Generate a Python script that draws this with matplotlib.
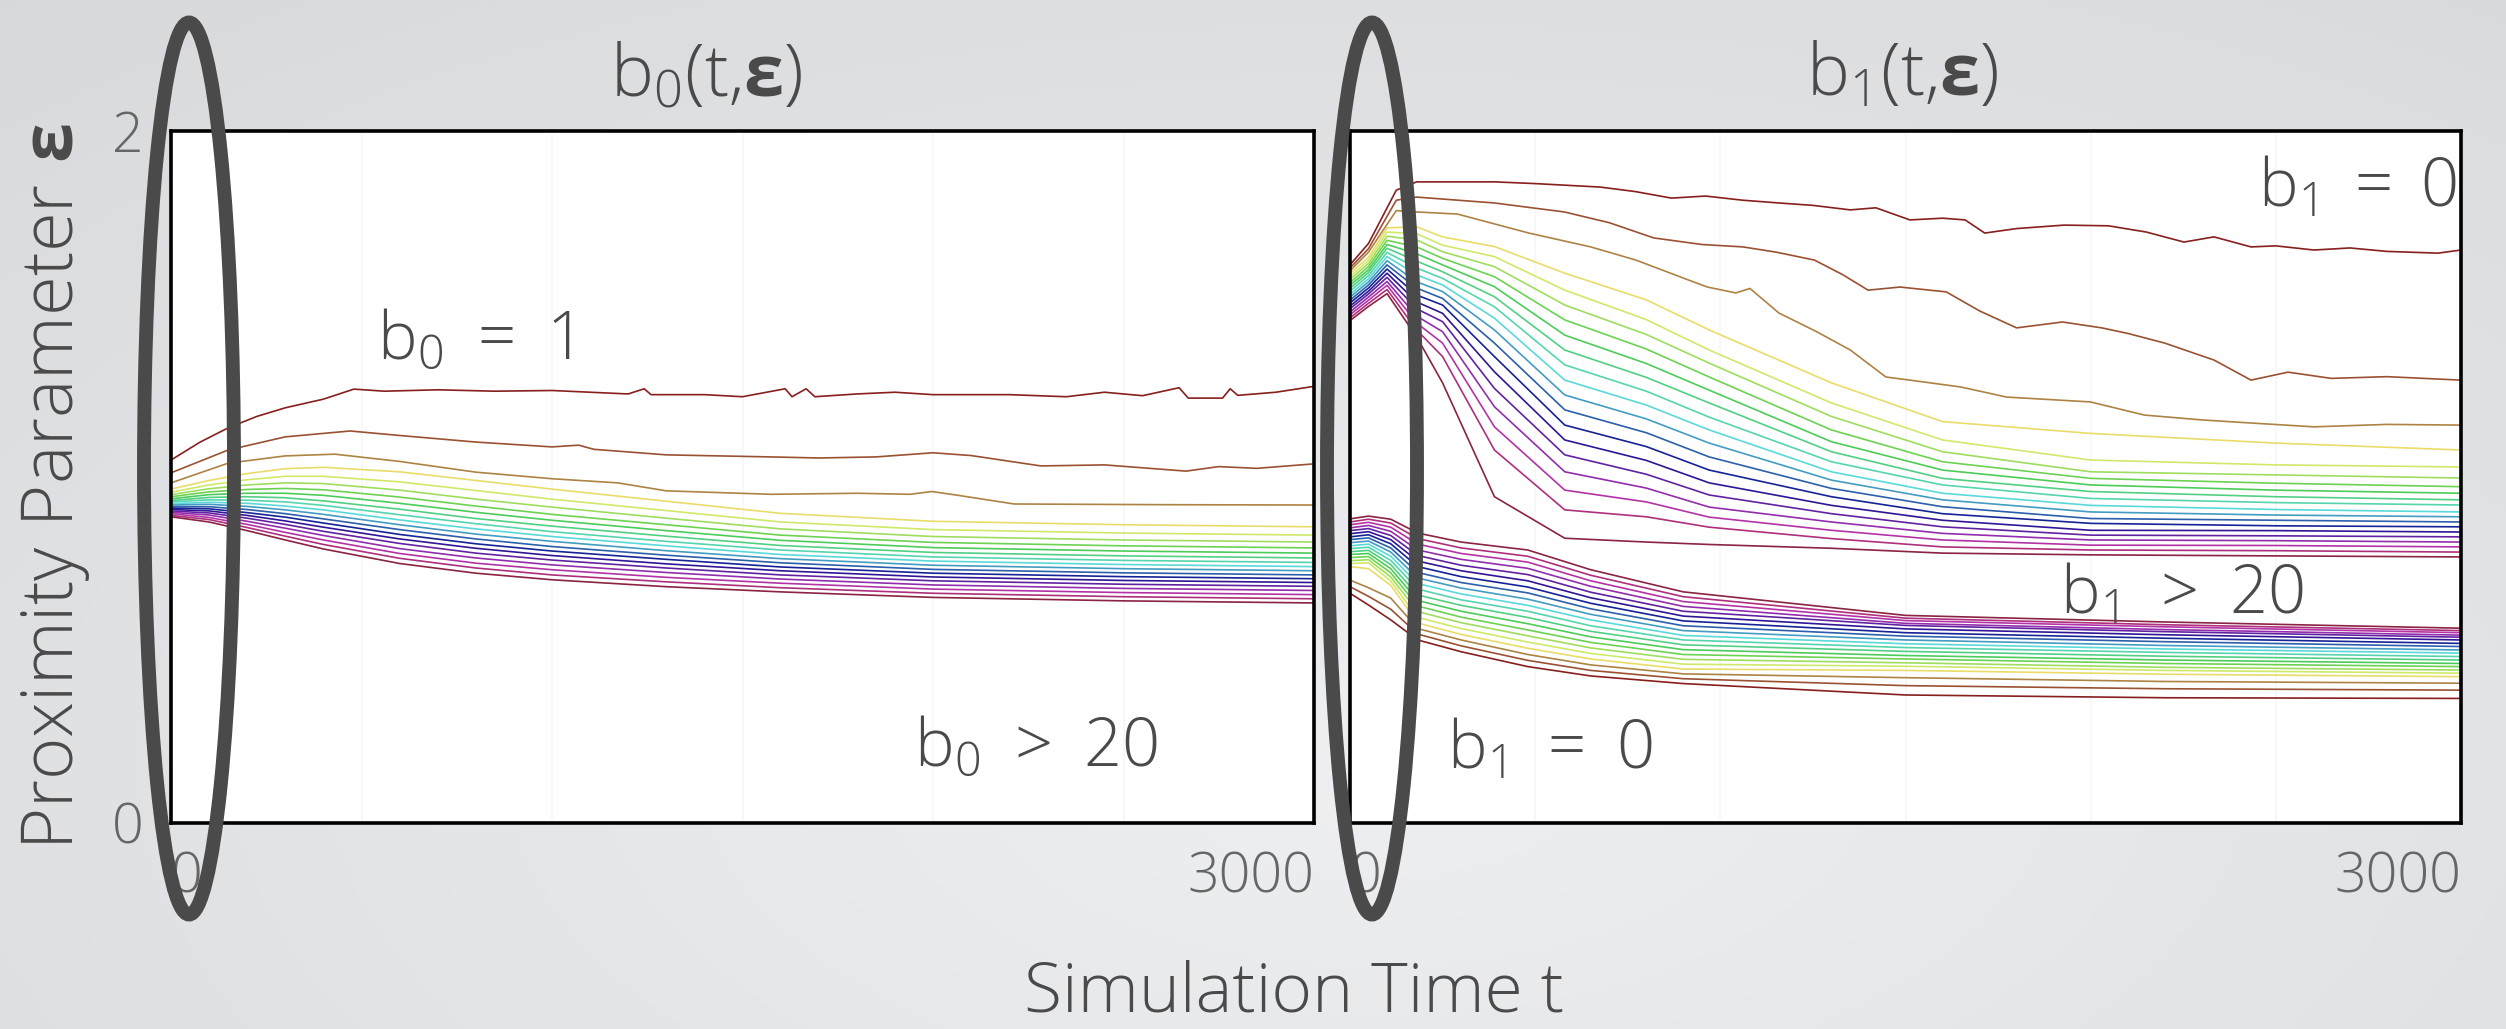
import numpy as np
import matplotlib
matplotlib.use("Agg")
import matplotlib.pyplot as plt
from matplotlib.patches import Ellipse
from matplotlib.colors import hsv_to_rgb

plt.rcParams['font.family'] = ['Open Sans', 'DejaVu Sans']
plt.rcParams['font.weight'] = 'light'
plt.rcParams['mathtext.fontset'] = 'custom'
plt.rcParams['mathtext.rm'] = 'Open Sans:light'
plt.rcParams['mathtext.it'] = 'Open Sans:light'
plt.rcParams['mathtext.bf'] = 'Open Sans:bold'
plt.rcParams['mathtext.default'] = 'rm'

# ---------------------------------------------------------------- data
# b0(t, eps): level curves b0 = 1, 2, 3 (noisy) and b0 = 4 ... 20
B0_L1_T = [0, 75, 150, 225, 300, 400, 480, 560, 700, 850, 1000, 1100, 1200, 1242, 1260,
           1400, 1500, 1612, 1630, 1667, 1690, 1800, 1900, 2000, 2200, 2350, 2450, 2550,
           2646, 2670, 2760, 2780, 2800, 2900, 3000]
B0_L1_E = [1.049, 1.100, 1.142, 1.175, 1.200, 1.225, 1.254, 1.248, 1.252, 1.248, 1.250,
           1.245, 1.240, 1.255, 1.238, 1.238, 1.232, 1.255, 1.232, 1.255, 1.232, 1.240,
           1.245, 1.238, 1.238, 1.232, 1.245, 1.235, 1.258, 1.228, 1.228, 1.255, 1.236,
           1.245, 1.262]
B0_L2_T = [0, 150, 300, 470, 600, 800, 1000, 1070, 1110, 1300, 1575, 1700, 1850, 2000,
           2100, 2283, 2450, 2664, 2750, 2850, 3000]
B0_L2_E = [1.012, 1.078, 1.116, 1.133, 1.120, 1.101, 1.087, 1.092, 1.080, 1.064, 1.058,
           1.055, 1.058, 1.070, 1.062, 1.032, 1.035, 1.017, 1.030, 1.025, 1.038]
B0_L3_T = [0, 150, 300, 430, 600, 800, 1000, 1173, 1300, 1575, 1800, 1940, 1997, 2060,
           2213, 2600, 3000]
B0_L3_E = [0.983, 1.040, 1.061, 1.066, 1.045, 1.014, 0.995, 0.983, 0.960, 0.950, 0.953,
           0.950, 0.958, 0.948, 0.922, 0.920, 0.919]

B0_T = [0, 100, 200, 300, 400, 600, 800, 1000, 1300, 1600, 2000, 2500, 3000]
B0_LEVELS = [
    [0.965, 0.990, 1.010, 1.024, 1.028, 1.015, 0.990, 0.965, 0.930, 0.895, 0.872, 0.862, 0.856],
    [0.956, 0.977, 0.992, 1.002, 1.002, 0.986, 0.961, 0.936, 0.903, 0.870, 0.848, 0.838, 0.832],
    [0.949, 0.966, 0.977, 0.983, 0.981, 0.962, 0.936, 0.913, 0.881, 0.850, 0.828, 0.818, 0.812],
    [0.943, 0.957, 0.964, 0.967, 0.963, 0.942, 0.916, 0.892, 0.862, 0.832, 0.811, 0.801, 0.795],
    [0.937, 0.949, 0.953, 0.953, 0.947, 0.924, 0.898, 0.875, 0.845, 0.817, 0.796, 0.786, 0.780],
    [0.932, 0.941, 0.943, 0.940, 0.931, 0.907, 0.880, 0.858, 0.829, 0.802, 0.782, 0.772, 0.766],
    [0.928, 0.934, 0.933, 0.928, 0.918, 0.891, 0.865, 0.842, 0.814, 0.789, 0.769, 0.759, 0.753],
    [0.923, 0.927, 0.924, 0.916, 0.905, 0.876, 0.850, 0.828, 0.801, 0.776, 0.757, 0.747, 0.741],
    [0.919, 0.921, 0.915, 0.905, 0.892, 0.862, 0.835, 0.814, 0.787, 0.764, 0.745, 0.735, 0.729],
    [0.914, 0.914, 0.906, 0.894, 0.879, 0.848, 0.821, 0.799, 0.774, 0.752, 0.733, 0.723, 0.717],
    [0.910, 0.908, 0.897, 0.884, 0.867, 0.834, 0.807, 0.786, 0.762, 0.740, 0.722, 0.712, 0.706],
    [0.906, 0.902, 0.889, 0.873, 0.855, 0.821, 0.794, 0.773, 0.749, 0.729, 0.711, 0.701, 0.695],
    [0.902, 0.896, 0.881, 0.863, 0.843, 0.808, 0.780, 0.760, 0.737, 0.717, 0.700, 0.690, 0.684],
    [0.898, 0.890, 0.872, 0.852, 0.831, 0.793, 0.766, 0.746, 0.724, 0.705, 0.688, 0.678, 0.672],
    [0.894, 0.883, 0.863, 0.840, 0.818, 0.779, 0.751, 0.732, 0.710, 0.693, 0.676, 0.666, 0.660],
    [0.889, 0.877, 0.854, 0.829, 0.805, 0.765, 0.737, 0.717, 0.697, 0.680, 0.664, 0.654, 0.648],
    [0.885, 0.870, 0.845, 0.818, 0.792, 0.750, 0.722, 0.703, 0.683, 0.668, 0.652, 0.642, 0.636],
]

# b1(t, eps), upper family: levels 1, 2, 3 (noisy) and 4 ... 20
B1U_L1_T = [0, 50, 125, 180, 390, 500, 675, 770, 868, 960, 1060, 1158, 1250, 1351, 1420,
            1512, 1600, 1661, 1714, 1800, 1928, 2048, 2150, 2252, 2333, 2433, 2500, 2603,
            2700, 2800, 2938, 3000]
B1U_L1_E = [1.613, 1.675, 1.829, 1.853, 1.853, 1.848, 1.838, 1.825, 1.806, 1.812, 1.800,
            1.792, 1.785, 1.772, 1.778, 1.743, 1.748, 1.743, 1.705, 1.718, 1.728, 1.726,
            1.708, 1.679, 1.694, 1.665, 1.668, 1.656, 1.662, 1.652, 1.647, 1.656]
B1U_L2_T = [0, 50, 125, 180, 390, 579, 700, 820, 950, 1061, 1150, 1254, 1330, 1399, 1485,
            1610, 1700, 1800, 1924, 2030, 2100, 2200, 2333, 2433, 2533, 2650, 2800, 3000]
B1U_L2_E = [1.604, 1.660, 1.800, 1.809, 1.792, 1.766, 1.735, 1.691, 1.672, 1.665, 1.650,
            1.627, 1.585, 1.540, 1.549, 1.535, 1.480, 1.431, 1.448, 1.431, 1.415, 1.387,
            1.338, 1.280, 1.303, 1.285, 1.290, 1.280]
B1U_L3_T = [0, 50, 125, 180, 290, 483, 650, 772, 900, 965, 1042, 1080, 1158, 1260, 1351,
            1447, 1512, 1650, 1773, 1999, 2145, 2300, 2433, 2603, 2800, 3000]
B1U_L3_E = [1.596, 1.650, 1.770, 1.766, 1.760, 1.705, 1.665, 1.627, 1.575, 1.549, 1.532,
            1.545, 1.474, 1.420, 1.367, 1.289, 1.280, 1.260, 1.231, 1.217, 1.179, 1.165,
            1.156, 1.145, 1.152, 1.150]

B1U_T = [0, 50, 100, 180, 250, 390, 580, 800, 970, 1300, 1600, 2000, 2500, 3000]
B1U_LEVELS = [
    [1.588, 1.635, 1.720, 1.723, 1.694, 1.666, 1.589, 1.512, 1.425, 1.272, 1.160, 1.126, 1.098, 1.078],
    [1.579, 1.626, 1.708, 1.703, 1.670, 1.637, 1.540, 1.455, 1.367, 1.214, 1.107, 1.049, 1.035, 1.029],
    [1.571, 1.617, 1.696, 1.685, 1.651, 1.608, 1.497, 1.412, 1.329, 1.175, 1.073, 1.015, 1.006, 0.997],
    [1.562, 1.608, 1.684, 1.665, 1.632, 1.579, 1.454, 1.370, 1.289, 1.136, 1.044, 0.996, 0.982, 0.972],
    [1.554, 1.599, 1.672, 1.645, 1.613, 1.550, 1.410, 1.328, 1.251, 1.102, 1.020, 0.977, 0.962, 0.953],
    [1.545, 1.591, 1.661, 1.624, 1.593, 1.521, 1.367, 1.288, 1.214, 1.073, 0.996, 0.958, 0.943, 0.934],
    [1.537, 1.582, 1.649, 1.604, 1.574, 1.492, 1.324, 1.248, 1.173, 1.044, 0.977, 0.938, 0.926, 0.919],
    [1.528, 1.573, 1.637, 1.584, 1.555, 1.459, 1.280, 1.208, 1.136, 1.015, 0.953, 0.918, 0.906, 0.899],
    [1.520, 1.564, 1.625, 1.564, 1.536, 1.425, 1.237, 1.168, 1.098, 0.991, 0.934, 0.899, 0.890, 0.885],
    [1.511, 1.555, 1.613, 1.546, 1.516, 1.387, 1.194, 1.128, 1.058, 0.967, 0.914, 0.880, 0.875, 0.870],
    [1.503, 1.546, 1.601, 1.526, 1.497, 1.348, 1.150, 1.088, 1.020, 0.943, 0.894, 0.866, 0.859, 0.856],
    [1.494, 1.537, 1.589, 1.506, 1.473, 1.304, 1.107, 1.048, 0.983, 0.918, 0.875, 0.846, 0.845, 0.841],
    [1.486, 1.529, 1.577, 1.486, 1.449, 1.256, 1.064, 1.008, 0.948, 0.894, 0.856, 0.832, 0.830, 0.827],
    [1.477, 1.520, 1.565, 1.465, 1.420, 1.203, 1.015, 0.968, 0.913, 0.870, 0.837, 0.818, 0.816, 0.812],
    [1.469, 1.511, 1.554, 1.445, 1.387, 1.145, 0.962, 0.928, 0.884, 0.846, 0.818, 0.803, 0.802, 0.798],
    [1.460, 1.502, 1.542, 1.425, 1.348, 1.078, 0.905, 0.885, 0.855, 0.822, 0.798, 0.789, 0.787, 0.783],
    [1.452, 1.493, 1.530, 1.405, 1.272, 0.943, 0.823, 0.812, 0.805, 0.794, 0.780, 0.775, 0.772, 0.769],
]

# b1(t, eps), lower family: levels 1 ... 20 (level 1 is the lowest curve)
B1L_T = [0, 50, 110, 183, 300, 480, 650, 900, 1500, 2200, 3000]
B1L_LEVELS = [
    [0.664, 0.630, 0.587, 0.529, 0.495, 0.452, 0.425, 0.403, 0.370, 0.362, 0.360],
    [0.683, 0.655, 0.618, 0.546, 0.512, 0.470, 0.441, 0.417, 0.397, 0.388, 0.384],
    [0.702, 0.680, 0.650, 0.562, 0.529, 0.487, 0.457, 0.431, 0.420, 0.409, 0.404],
    [0.741, 0.735, 0.687, 0.578, 0.545, 0.505, 0.474, 0.445, 0.441, 0.430, 0.423],
    [0.750, 0.752, 0.699, 0.594, 0.562, 0.523, 0.490, 0.459, 0.453, 0.441, 0.433],
    [0.758, 0.761, 0.711, 0.611, 0.579, 0.541, 0.506, 0.473, 0.463, 0.450, 0.442],
    [0.767, 0.770, 0.723, 0.627, 0.595, 0.558, 0.522, 0.487, 0.474, 0.461, 0.452],
    [0.776, 0.779, 0.735, 0.643, 0.612, 0.576, 0.538, 0.501, 0.484, 0.471, 0.461],
    [0.784, 0.788, 0.747, 0.659, 0.629, 0.594, 0.554, 0.515, 0.496, 0.482, 0.471],
    [0.793, 0.797, 0.759, 0.676, 0.645, 0.612, 0.570, 0.529, 0.507, 0.493, 0.481],
    [0.801, 0.806, 0.771, 0.692, 0.662, 0.629, 0.587, 0.542, 0.518, 0.503, 0.491],
    [0.810, 0.815, 0.783, 0.708, 0.679, 0.647, 0.603, 0.556, 0.529, 0.513, 0.500],
    [0.819, 0.824, 0.795, 0.724, 0.695, 0.665, 0.619, 0.570, 0.540, 0.524, 0.510],
    [0.827, 0.833, 0.807, 0.741, 0.712, 0.682, 0.635, 0.584, 0.550, 0.534, 0.519],
    [0.836, 0.842, 0.819, 0.757, 0.729, 0.700, 0.651, 0.598, 0.561, 0.544, 0.529],
    [0.845, 0.851, 0.831, 0.773, 0.745, 0.718, 0.667, 0.612, 0.571, 0.553, 0.537],
    [0.853, 0.860, 0.843, 0.789, 0.762, 0.736, 0.684, 0.626, 0.577, 0.559, 0.543],
    [0.862, 0.869, 0.855, 0.806, 0.779, 0.754, 0.700, 0.640, 0.585, 0.567, 0.550],
    [0.870, 0.878, 0.867, 0.822, 0.795, 0.771, 0.716, 0.654, 0.592, 0.573, 0.556],
    [0.879, 0.887, 0.878, 0.838, 0.812, 0.789, 0.732, 0.668, 0.600, 0.581, 0.563],
]

T_MAX = 3000
EPS_MAX = 2
X_TICKS = [0, 3000]
X_TICK_LABELS = ['0', '3000']
Y_TICKS = [0, 2]
Y_TICK_LABELS = ['0', '2']
N_LEVELS = 20

# ---------------------------------------------------------------- style
W, H = 2506, 1029
LW = 1.2
TEXT = '#4a4a4a'
TICK = '#666666'


def level_color(level):
    """Cyclic hue per level, muted the way thin lines look on screen."""
    rgb = hsv_to_rgb([(level - 1) / N_LEVELS, 1.0, 1.0])
    lum = 0.299 * rgb[0] + 0.587 * rgb[1] + 0.114 * rgb[2]
    mixed = 0.5 * rgb + 0.5 * lum
    # warm end of the cycle reads darker
    if level <= 3 or level == N_LEVELS:
        mixed = mixed * 0.82
    return tuple(mixed)


fig = plt.figure(figsize=(W / 100, H / 100), dpi=100)

# slide backdrop: soft gray vignette
bg = fig.add_axes([0, 0, 1, 1], zorder=-10)
bg.axis('off')
yy, xx = np.mgrid[0:1:300j, 0:1:600j]
r = np.sqrt(((xx - 0.55) / 0.75) ** 2 + ((yy - 0.75) / 0.9) ** 2)
v = np.clip(0.948 - 0.08 * r, 0, 1)
bg.imshow(np.dstack([v * 0.985, v * 0.99, v * 1.0]), extent=[0, 1, 0, 1],
          aspect='auto', origin='upper')
bg.set_xlim(0, 1)
bg.set_ylim(0, 1)

axL = fig.add_axes([171 / W, 1 - 823 / H, 1143 / W, 692 / H])
axR = fig.add_axes([1350 / W, 1 - 823 / H, 1111 / W, 692 / H])

for ax in (axL, axR):
    ax.set_facecolor('white')
    ax.set_xlim(0, T_MAX)
    ax.set_ylim(0, EPS_MAX)
    for s in ax.spines.values():
        s.set_linewidth(2.6)
        s.set_color('black')
    for gx in range(500, T_MAX, 500):
        ax.axvline(gx, color='#f7f7f7', lw=1.2, zorder=0)
    ax.set_xticks(X_TICKS)
    ax.set_xticklabels(X_TICK_LABELS)
    ax.tick_params(axis='x', length=0, pad=20, labelsize=40, labelcolor=TICK)
    xl = ax.get_xticklabels()
    xl[0].set_horizontalalignment('left')
    xl[-1].set_horizontalalignment('right')

axL.set_yticks(Y_TICKS)
axL.set_yticklabels(Y_TICK_LABELS)
axL.tick_params(axis='y', length=0, pad=20, labelsize=40, labelcolor=TICK)
axR.set_yticks([])

# left panel: b0 level curves
axL.plot(B0_L1_T, B0_L1_E, color=level_color(1), lw=LW)
axL.plot(B0_L2_T, B0_L2_E, color=level_color(2), lw=LW)
axL.plot(B0_L3_T, B0_L3_E, color=level_color(3), lw=LW)
for i, row in enumerate(B0_LEVELS):
    axL.plot(B0_T, row, color=level_color(4 + i), lw=LW)

# right panel: b1 level curves, upper and lower families
axR.plot(B1U_L1_T, B1U_L1_E, color=level_color(1), lw=LW)
axR.plot(B1U_L2_T, B1U_L2_E, color=level_color(2), lw=LW)
axR.plot(B1U_L3_T, B1U_L3_E, color=level_color(3), lw=LW)
for i, row in enumerate(B1U_LEVELS):
    axR.plot(B1U_T, row, color=level_color(4 + i), lw=LW)
for i, row in enumerate(B1L_LEVELS):
    axR.plot(B1L_T, row, color=level_color(1 + i), lw=LW)

# titles, region labels, axis labels
fig.text(706 / W, 1 - 77 / H, r'$b_0(t{,}\mathbf{\varepsilon})$', ha='center', va='center',
         fontsize=52, color=TEXT)
fig.text(1902 / W, 1 - 77 / H, r'$b_1(t{,}\mathbf{\varepsilon})$', ha='center', va='center',
         fontsize=52, color=TEXT)

ann = dict(ha='center', va='center', fontsize=48, color=TEXT)
fig.text(474 / W, 1 - 341 / H, r'$b_0\ =\ 1$', **ann)
fig.text(1036 / W, 1 - 748 / H, r'$b_0\ >\ 20$', **ann)
fig.text(2358 / W, 1 - 189 / H, r'$b_1\;=\;0$', **ann)
fig.text(2182 / W, 1 - 596 / H, r'$b_1\ >\ 20$', **ann)
fig.text(1550 / W, 1 - 751 / H, r'$b_1\ =\ 0$', **ann)

fig.text(1294 / W, 1 - 994 / H, 'Simulation Time t', ha='center', va='center',
         fontsize=50, color=TEXT)
fig.text(56 / W, 1 - 487 / H, r'$Proximity\ Parameter\ \mathbf{\varepsilon}$',
         rotation=90, ha='center', va='center', fontsize=52, color=TEXT)

# highlight rings around the early-time window
for cx in (189, 1372):
    fig.add_artist(Ellipse((cx / W, 1 - 468.5 / H), width=90 / W, height=892 / H,
                           transform=fig.transFigure, fill=False, lw=10,
                           edgecolor='#4a4a4a', zorder=10))

fig.savefig('out.png', dpi=100)
